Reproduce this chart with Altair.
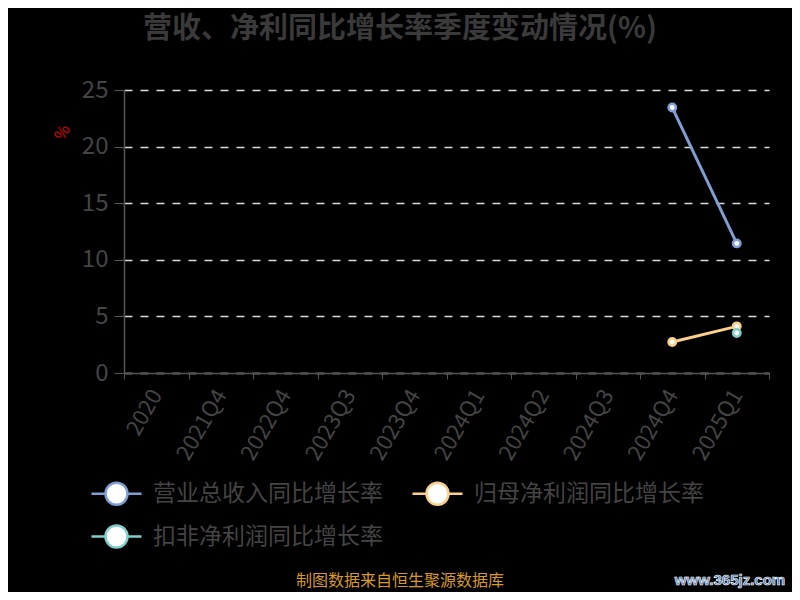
import altair as alt
import pandas as pd

categories = ["2020", "2021Q4", "2022Q4", "2023Q3", "2023Q4",
              "2024Q1", "2024Q2", "2024Q3", "2024Q4", "2025Q1"]
series_names = ["营业总收入同比增长率", "归母净利润同比增长率", "扣非净利润同比增长率"]
revenue_yoy = [None, None, None, None, None, None, None, None, 23.45, 11.45]
parent_np_yoy = [None, None, None, None, None, None, None, None, 2.74, 4.12]
deducted_np_yoy = [None, None, None, None, None, None, None, None, None, 3.54]
y_ticks = [0, 5, 10, 15, 20, 25]
colors = ["#7f9fd4", "#fccf8a", "#80cfcc"]
title_text = "营收、净利同比增长率季度变动情况(%)"

rows = []
for name, vals in zip(series_names, [revenue_yoy, parent_np_yoy, deducted_np_yoy]):
    for c, v in zip(categories, vals):
        rows.append({"季度": c, "系列": name, "值": v})
df = pd.DataFrame(rows)

FONT = "Noto Sans CJK SC"
legend_path = ("M-1,0H-0.44M0.44,0H1"
               "M0.44,0A0.44,0.44,0,1,1,-0.44,0A0.44,0.44,0,1,1,0.44,0Z")

x_enc = alt.X("季度:N", sort=categories,
              scale=alt.Scale(domain=categories, paddingInner=0, paddingOuter=0),
              axis=alt.Axis(title=None, labelAngle=300, labelAlign="right",
                            labelBaseline="middle", labelFontSize=22,
                            labelColor="#444444", labelFont=FONT, labelPadding=12,
                            tickBand="extent", ticks=True, tickSize=6,
                            tickColor="#555555", domainColor="#555555",
                            domainWidth=1.5, grid=False))
y_enc = alt.Y("值:Q",
              scale=alt.Scale(domain=[0, 25], nice=False, zero=True),
              axis=alt.Axis(title="%", titleColor="#e00000", titleFontSize=16,
                            titleFont=FONT, titleFontWeight="normal", titleAngle=300,
                            titleX=-62, titleY=42, titleAlign="center",
                            titleBaseline="middle",
                            values=y_ticks, labelFontSize=24, labelColor="#444444",
                            labelFont=FONT, labelPadding=6, tickSize=10,
                            tickColor="#555555", domainColor="#555555",
                            domainWidth=1.5,
                            grid=True, gridDash=[8, 8], gridColor="#dddddd",
                            gridWidth=1.5))
color_scale = alt.Scale(domain=series_names, range=colors)

lines = alt.Chart(df).mark_line(strokeWidth=3).encode(
    x=x_enc, y=y_enc,
    color=alt.Color("系列:N", scale=color_scale, sort=series_names,
                    legend=alt.Legend(title=None, orient="none", legendX=-34,
                                      legendY=377, columns=2, direction="horizontal",
                                      columnPadding=24, rowPadding=-7,
                                      symbolType=legend_path,
                                      symbolSize=2500, symbolStrokeWidth=2.5,
                                      symbolFillColor="white", labelFontSize=23,
                                      labelColor="#444444", labelFont=FONT,
                                      labelOffset=10, labelLimit=400))
)
points = alt.Chart(df).mark_point(filled=False, fill="white", fillOpacity=1,
                                  size=55, strokeWidth=2.5, opacity=1).encode(
    x=x_enc, y=y_enc,
    color=alt.Color("系列:N", scale=color_scale, sort=series_names, legend=None)
)

title = alt.Chart(pd.DataFrame({"t": [title_text]})).mark_text(
    font=FONT, fontSize=29, fontWeight="bold", color="#3a3a3a",
    align="center", baseline="middle"
).encode(text="t:N", x=alt.value(276), y=alt.value(-61))

footer = alt.Chart(pd.DataFrame({"t": ["制图数据来自恒生聚源数据库"]})).mark_text(
    font=FONT, fontSize=16, color="#d99a20", align="center", baseline="middle"
).encode(text="t:N", x=alt.value(276), y=alt.value(491))

watermark = alt.Chart(pd.DataFrame({"t": ["www.365jz.com"]})).mark_text(
    font="Liberation Sans", fontSize=15, fontWeight="bold", color="#3b6db4",
    stroke="#ffffff", strokeWidth=0.7, align="center", baseline="middle"
).encode(text="t:N", x=alt.value(606), y=alt.value(490))

chart = alt.layer(lines, points, title, footer, watermark).properties(
    width=645, height=283,
    autosize=alt.AutoSizeParams(type="none"),
    padding={"left": 116, "top": 82, "right": 23, "bottom": 219},
    background="#000000",
).configure_view(stroke=None)

chart.save("out.html", embed_options={"renderer": "svg", "actions": False})
